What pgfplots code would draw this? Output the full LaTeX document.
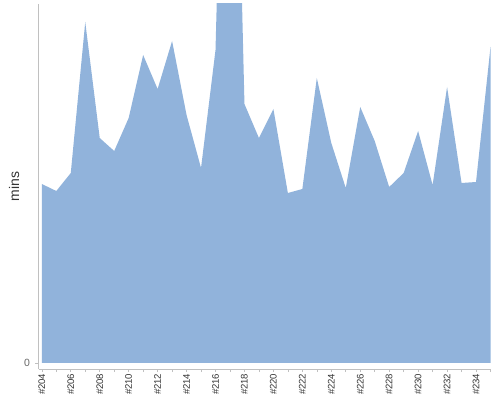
\documentclass[border=0pt]{standalone}
\usepackage{fontspec}
\setmainfont{Liberation Sans}
\usepackage{pgfplots}
\pgfplotsset{compat=1.18}
\definecolor{areafill}{HTML}{91B3DB}
\definecolor{axgray}{HTML}{C0C0C0}
\definecolor{txt}{HTML}{333333}
\begin{document}
\begin{tikzpicture}
\path[use as bounding box] (0,0) rectangle (500bp,400bp);
\begin{axis}[
  at={(38.5bp,31bp)}, anchor=south west,
  scale only axis, width=452bp, height=365bp,
  xmin=203.77, xmax=235, ymin=-6, ymax=359,
  axis x line*=bottom, axis y line*=left,
  axis line style={axgray, line width=0.8pt, -},
  xtick={204,...,235},
  xticklabels={\#204,,\#206,,\#208,,\#210,,\#212,,\#214,,\#216,,\#218,,\#220,,\#222,,\#224,,\#226,,\#228,,\#230,,\#232,,\#234,},
  x tick label style={rotate=90, anchor=east, font=\fontsize{9.6}{10}\selectfont, text=txt, inner sep=1.5pt},
  ytick={0},
  y tick label style={font=\fontsize{10.5}{11}\selectfont, text=gray!80!black, xshift=-2pt},
  tick style={axgray, line width=0.6pt},
  major tick length=3bp,
  tick align=outside,
  /pgf/number format/assume math mode=true,
  ylabel={mins},
  ylabel style={at={(axis description cs:-0.054,0.5)}, anchor=center, font=\fontsize{14}{15}\selectfont, text=txt},
  clip=true,
]
\addplot[fill=areafill, draw=none] coordinates {
(204,0)
(204,179) (205,172) (206,190) (207,341) (208,225) (209,212) (210,245) (211,308)
(212,274) (213,322) (214,248) (215,195) (216,313) (217,860) (218,259) (219,225)
(220,254) (221,170) (222,174) (223,285) (224,220) (225,175) (226,256) (227,222)
(228,176) (229,190) (230,232) (231,178) (232,276) (233,180) (234,181) (235,316)
(235,0)
};
\end{axis}
\end{tikzpicture}
\end{document}
